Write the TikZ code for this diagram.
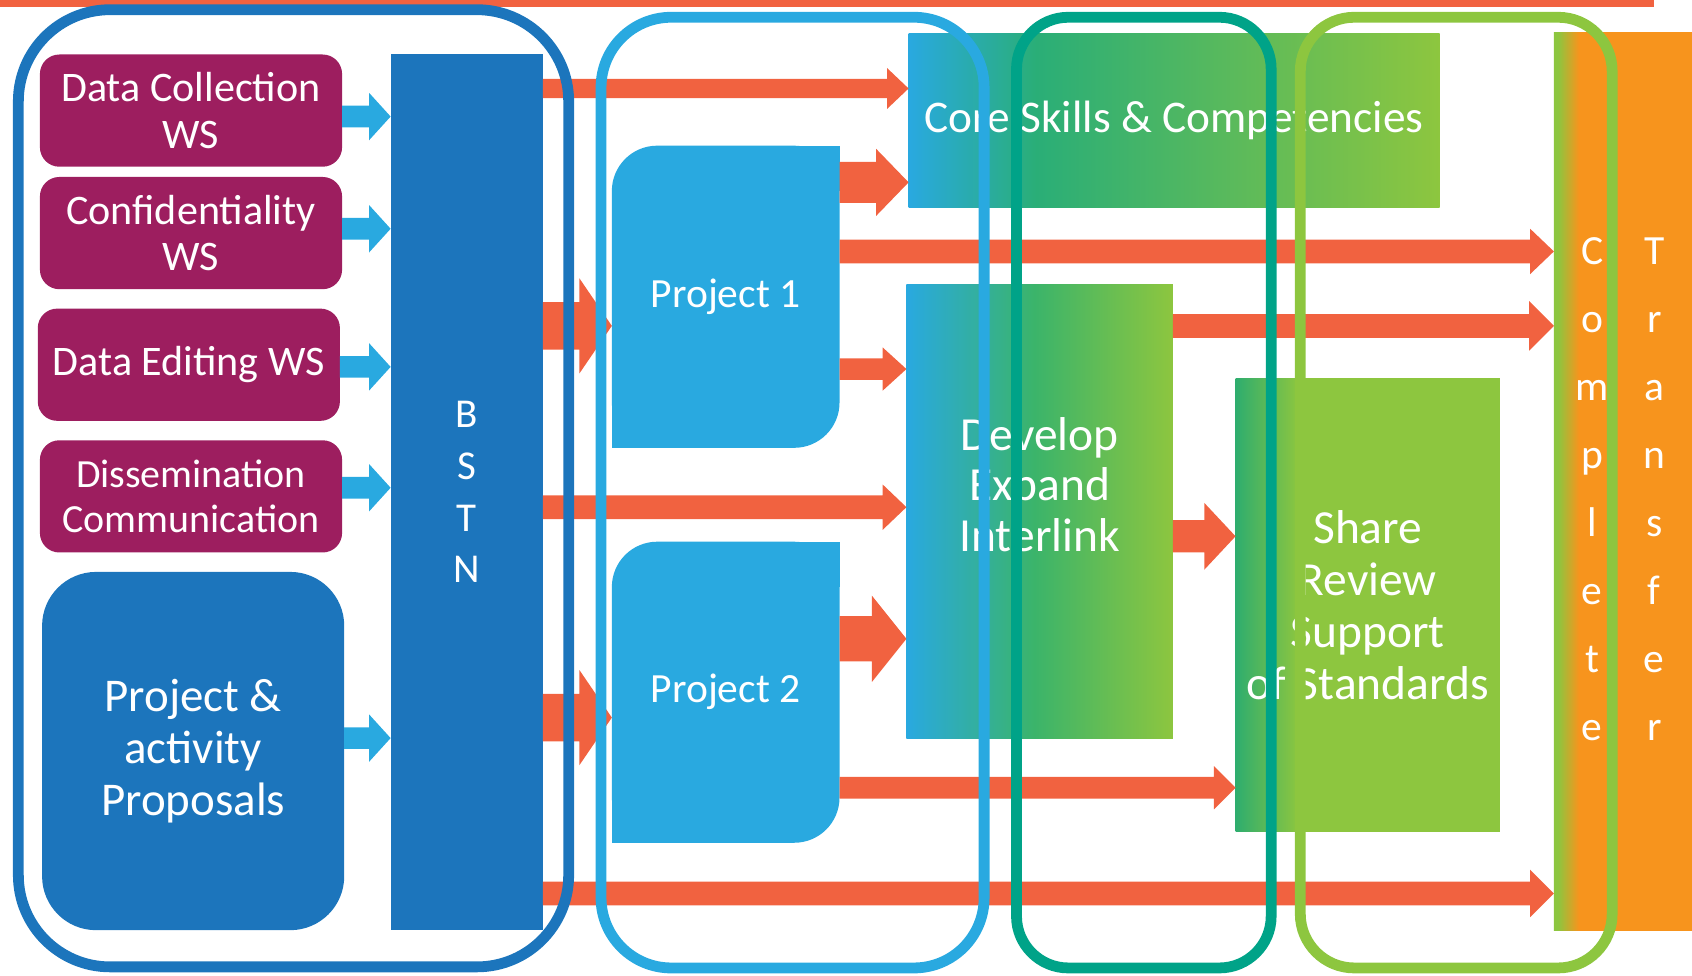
\documentclass[tikz,border=0pt]{standalone}
\usepackage{fontspec}
\setmainfont{Carlito}
\usetikzlibrary{calc}
\definecolor{mag}{HTML}{9D1E5F}
\definecolor{dblue}{HTML}{1C75BC}
\definecolor{lblue}{HTML}{29A9E0}
\definecolor{orr}{HTML}{F16240}
\definecolor{ora}{HTML}{F7941D}
\definecolor{cteal}{HTML}{00A388}
\definecolor{clime}{HTML}{8DC63F}
\definecolor{cgreen}{HTML}{2AAE77}
\definecolor{cgreentwo}{HTML}{3BB46A}
\definecolor{sgreen}{HTML}{2EAD6E}
\pgfdeclarehorizontalshading{coreshade}{100bp}{color(0bp)=(lblue); color(25bp)=(lblue); color(37bp)=(cgreen); color(75bp)=(clime); color(100bp)=(clime)}
\pgfdeclarehorizontalshading{devshade}{100bp}{color(0bp)=(lblue); color(25bp)=(lblue); color(49bp)=(cgreentwo); color(75bp)=(clime); color(100bp)=(clime)}
\pgfdeclarehorizontalshading{shareshade}{100bp}{color(0bp)=(sgreen); color(25bp)=(sgreen); color(37bp)=(clime); color(100bp)=(clime)}
\pgfdeclarehorizontalshading{compshade}{100bp}{color(0bp)=(clime); color(26.5bp)=(clime); color(34bp)=(ora); color(100bp)=(ora)}
\newcommand\blockarrow[7]{%
  \coordinate (lvl) at (0,#4);
  \coordinate (bas) at (#2 |- lvl);
  \coordinate (bae) at (#3 |- lvl);
  \fill[#1] ($(bas)+(0,-#5)$) -- ($(bae)+(-#6,-#5)$) -- ($(bae)+(-#6,-#7)$) -- (bae)
    -- ($(bae)+(-#6,#7)$) -- ($(bae)+(-#6,#5)$) -- ($(bas)+(0,#5)$) -- cycle;}
\tikzset{
  ws/.style={fill=mag, rounded corners=18pt, minimum width=280pt, minimum height=104pt, text=white, align=center, font=\fontsize{39}{43}\selectfont},
  pbox/.style={fill=lblue, minimum width=211pt, minimum height=280pt, rounded corners=42pt, text=white, font=\fontsize{38.5}{44}\selectfont},
  grp/.style={draw=#1, line width=10pt, fill=none},
  wtext/.style={text=white, align=center},
  arr/.style={fill=orr},
  barr/.style={fill=lblue},
}
\begin{document}
\begin{tikzpicture}[x=1pt,y=-1pt, every node/.style={inner sep=0pt, outer sep=0pt}]
\useasboundingbox (0,0) rectangle (1568,904);
\fill[orr] (0,0) rectangle (1533,6.5);

% left boxes
\node[ws] (dc) at (177,102.5) {Data Collection\\WS};
\node[ws] (conf) at (177,216) {Confidentiality\\WS};
\node[ws] (edit) at (175,338) {Data Editing WS};
\node[ws, font=\fontsize{37}{41}\selectfont] (diss) at (177,460) {Dissemination\\Communication};
\node[fill=dblue, rounded corners=50pt, minimum width=280pt, minimum height=332pt, wtext, font=\fontsize{43.5}{48}\selectfont] (prop) at (179,696) {Project \&\\activity\\Proposals};
\node[fill=dblue, minimum width=141pt, minimum height=812pt, wtext, font=\fontsize{38}{48}\selectfont] (bstn) at (432.5,456) {B\\S\\T\\N};

% projects
\node[pbox] (p1) at (672.5,275) {Project 1};
\fill[lblue] (p1.north east) rectangle ++(-42,42);
\fill[lblue] (p1.south west) rectangle ++(42,-42);
\node[pbox, minimum height=279pt] (p2) at (672.5,641.5) {Project 2};
\fill[lblue] (p2.north east) rectangle ++(-42,42);
\fill[lblue] (p2.south west) rectangle ++(42,-42);

% gradient boxes
\node[shade, shading=coreshade, minimum width=492pt, minimum height=161pt, wtext, font=\fontsize{42}{48}\selectfont] (core) at (1088,111.5) {Core Skills \& Competencies};
\node[shade, shading=devshade, minimum width=247pt, minimum height=420pt] (dev) at (963.5,474) {};
\node[wtext, font=\fontsize{44}{47}\selectfont] (devt) at (963.5,449) {Develop\\Expand\\Interlink};
\node[shade, shading=shareshade, minimum width=245pt, minimum height=420pt, wtext, font=\fontsize{44}{48}\selectfont] (share) at (1267.5,561) {Share\\Review\\Support\\of Standards};
\node[shade, shading=compshade, minimum width=128pt, minimum height=832pt] (comp) at (1504,446) {};
\node[wtext, font=\fontsize{38.5}{63}\selectfont] (compl) at (1475.5,453) {C\\o\\m\\p\\l\\e\\t\\e};
\node[wtext, font=\fontsize{38.5}{63}\selectfont] (trans) at (1533,453) {T\\r\\a\\n\\s\\f\\e\\r};

% light blue arrows
\blockarrow{barr}{dc.east}{bstn.west}{108}{10}{20}{22}
\blockarrow{barr}{conf.east}{bstn.west}{212}{10}{20}{22}
\blockarrow{barr}{edit.east}{bstn.west}{340}{10}{20}{22}
\blockarrow{barr}{diss.east}{bstn.west}{452}{10}{20}{22}
\blockarrow{barr}{prop.east}{bstn.west}{684}{10}{20}{22}

% orange arrows
\blockarrow{arr}{bstn.east}{core.west}{82}{9}{20}{19}
\blockarrow{arr}{p1.east}{core.west}{169}{19}{30}{31}
\blockarrow{arr}{p1.east}{comp.west}{233}{11}{22}{21}
\blockarrow{arr}{dev.east}{comp.west}{302}{11}{23}{23}
\blockarrow{arr}{p1.east}{dev.west}{342}{10}{22}{20}
\blockarrow{arr}{bstn.east}{p1.west}{302}{22}{30}{44}
\blockarrow{arr}{bstn.east}{dev.west}{470}{11}{22}{21}
\blockarrow{arr}{p2.east}{dev.west}{592}{21}{32}{40}
\blockarrow{arr}{dev.east}{share.west}{497}{15}{29}{31}
\blockarrow{arr}{bstn.east}{p2.west}{665}{22}{30}{44}
\blockarrow{arr}{p2.east}{share.west}{730}{10}{20}{20}
\blockarrow{arr}{bstn.east}{comp.west}{828}{11}{22}{22}

% group outlines
\node[grp=dblue, minimum width=510pt, minimum height=887pt, rounded corners=85pt] (g1) at (272,452.5) {};
\node[grp=lblue, minimum width=355pt, minimum height=881pt, rounded corners=65pt] (g2) at (734.5,456.5) {};
\node[grp=cteal, minimum width=236pt, minimum height=881pt, rounded corners=48pt] (g3) at (1060,456.5) {};
\node[grp=clime, minimum width=289pt, minimum height=881pt, rounded corners=50pt] (g4) at (1349.5,456.5) {};
\end{tikzpicture}
\end{document}
